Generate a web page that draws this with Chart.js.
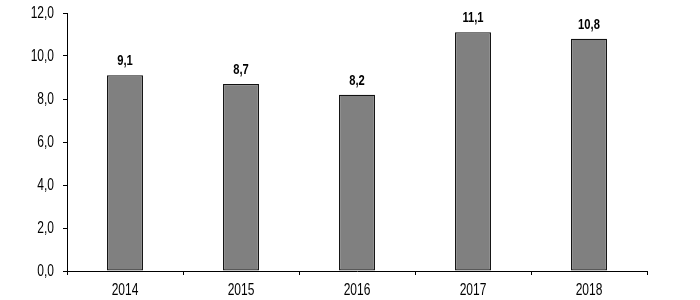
<!DOCTYPE html>
<html>
<head>
<meta charset="utf-8">
<script src="https://cdn.jsdelivr.net/npm/chart.js@4.4.0/dist/chart.umd.min.js"></script>
<style>
  html, body { margin: 0; padding: 0; background: #fff; }
  #wrap { width: 700px; height: 300px; }
</style>
</head>
<body>
<div id="wrap"><canvas id="chart" width="700" height="300"></canvas></div>
<script>
// chart data
const years = ["2014", "2015", "2016", "2017", "2018"]
const values = [9.1, 8.7, 8.2, 11.1, 10.8]

const fontFamily = "'Liberation Sans', Arial, sans-serif"
const fmt = v => Number(v).toFixed(1).replace(".", ",")

// the original uses a condensed face, so text is squeezed horizontally
function narrowText(ctx, text, x, y, squeeze) {
    ctx.save()
    ctx.translate(x, y)
    ctx.scale(squeeze, 1)
    ctx.fillText(text, 0, 0)
    ctx.restore()
}

// axis labels and the values above the bars
const textLayer = {
    id: "textLayer",
    afterDraw(chart) {
        const ctx = chart.ctx
        const xs = chart.scales.x
        const ys = chart.scales.y
        ctx.save()
        ctx.fillStyle = "#000"
        ctx.textBaseline = "alphabetic"

        ctx.font = "16px " + fontFamily
        ctx.textAlign = "right"
        ys.ticks.forEach(t => {
            narrowText(ctx, fmt(t.value), 54, ys.getPixelForValue(t.value) + 5, 0.75)
        })
        ctx.textAlign = "center"
        years.forEach((y, i) => {
            narrowText(ctx, y, xs.getPixelForTick(i), 295, 0.75)
        })

        ctx.font = "bold 14px " + fontFamily
        chart.getDatasetMeta(0).data.forEach((bar, i) => {
            narrowText(ctx, fmt(values[i]), bar.x, bar.y - 10, 0.8)
        })
        ctx.restore()
    }
}

new Chart(document.getElementById("chart").getContext("2d"), {
    type: "bar",
    data: {
        labels: years,
        datasets: [{
            data: values,
            backgroundColor: "#808080",
            borderColor: "#111",
            borderWidth: 1.2,
            borderSkipped: false,
            categoryPercentage: 1,
            barPercentage: 0.31,
        }],
    },
    options: {
        responsive: false,
        animation: false,
        layout: { padding: { left: 0, right: 53, top: 13, bottom: 0 } },
        plugins: { legend: { display: false }, tooltip: { enabled: false } },
        scales: {
            x: {
                grid: { display: true, drawOnChartArea: false, drawTicks: true, tickLength: 4, color: "#000", offset: true },
                border: { display: true, color: "#000", width: 1 },
                ticks: { display: false },
                afterFit: s => { s.height = 29 },
            },
            y: {
                min: 0,
                max: 12,
                ticks: { display: false, stepSize: 2 },
                grid: { display: true, drawOnChartArea: false, drawTicks: true, tickLength: 4, color: "#000" },
                border: { display: true, color: "#000", width: 1 },
                afterFit: s => { s.width = 67 },
            },
        },
    },
    plugins: [textLayer],
})
</script>
</body>
</html>
